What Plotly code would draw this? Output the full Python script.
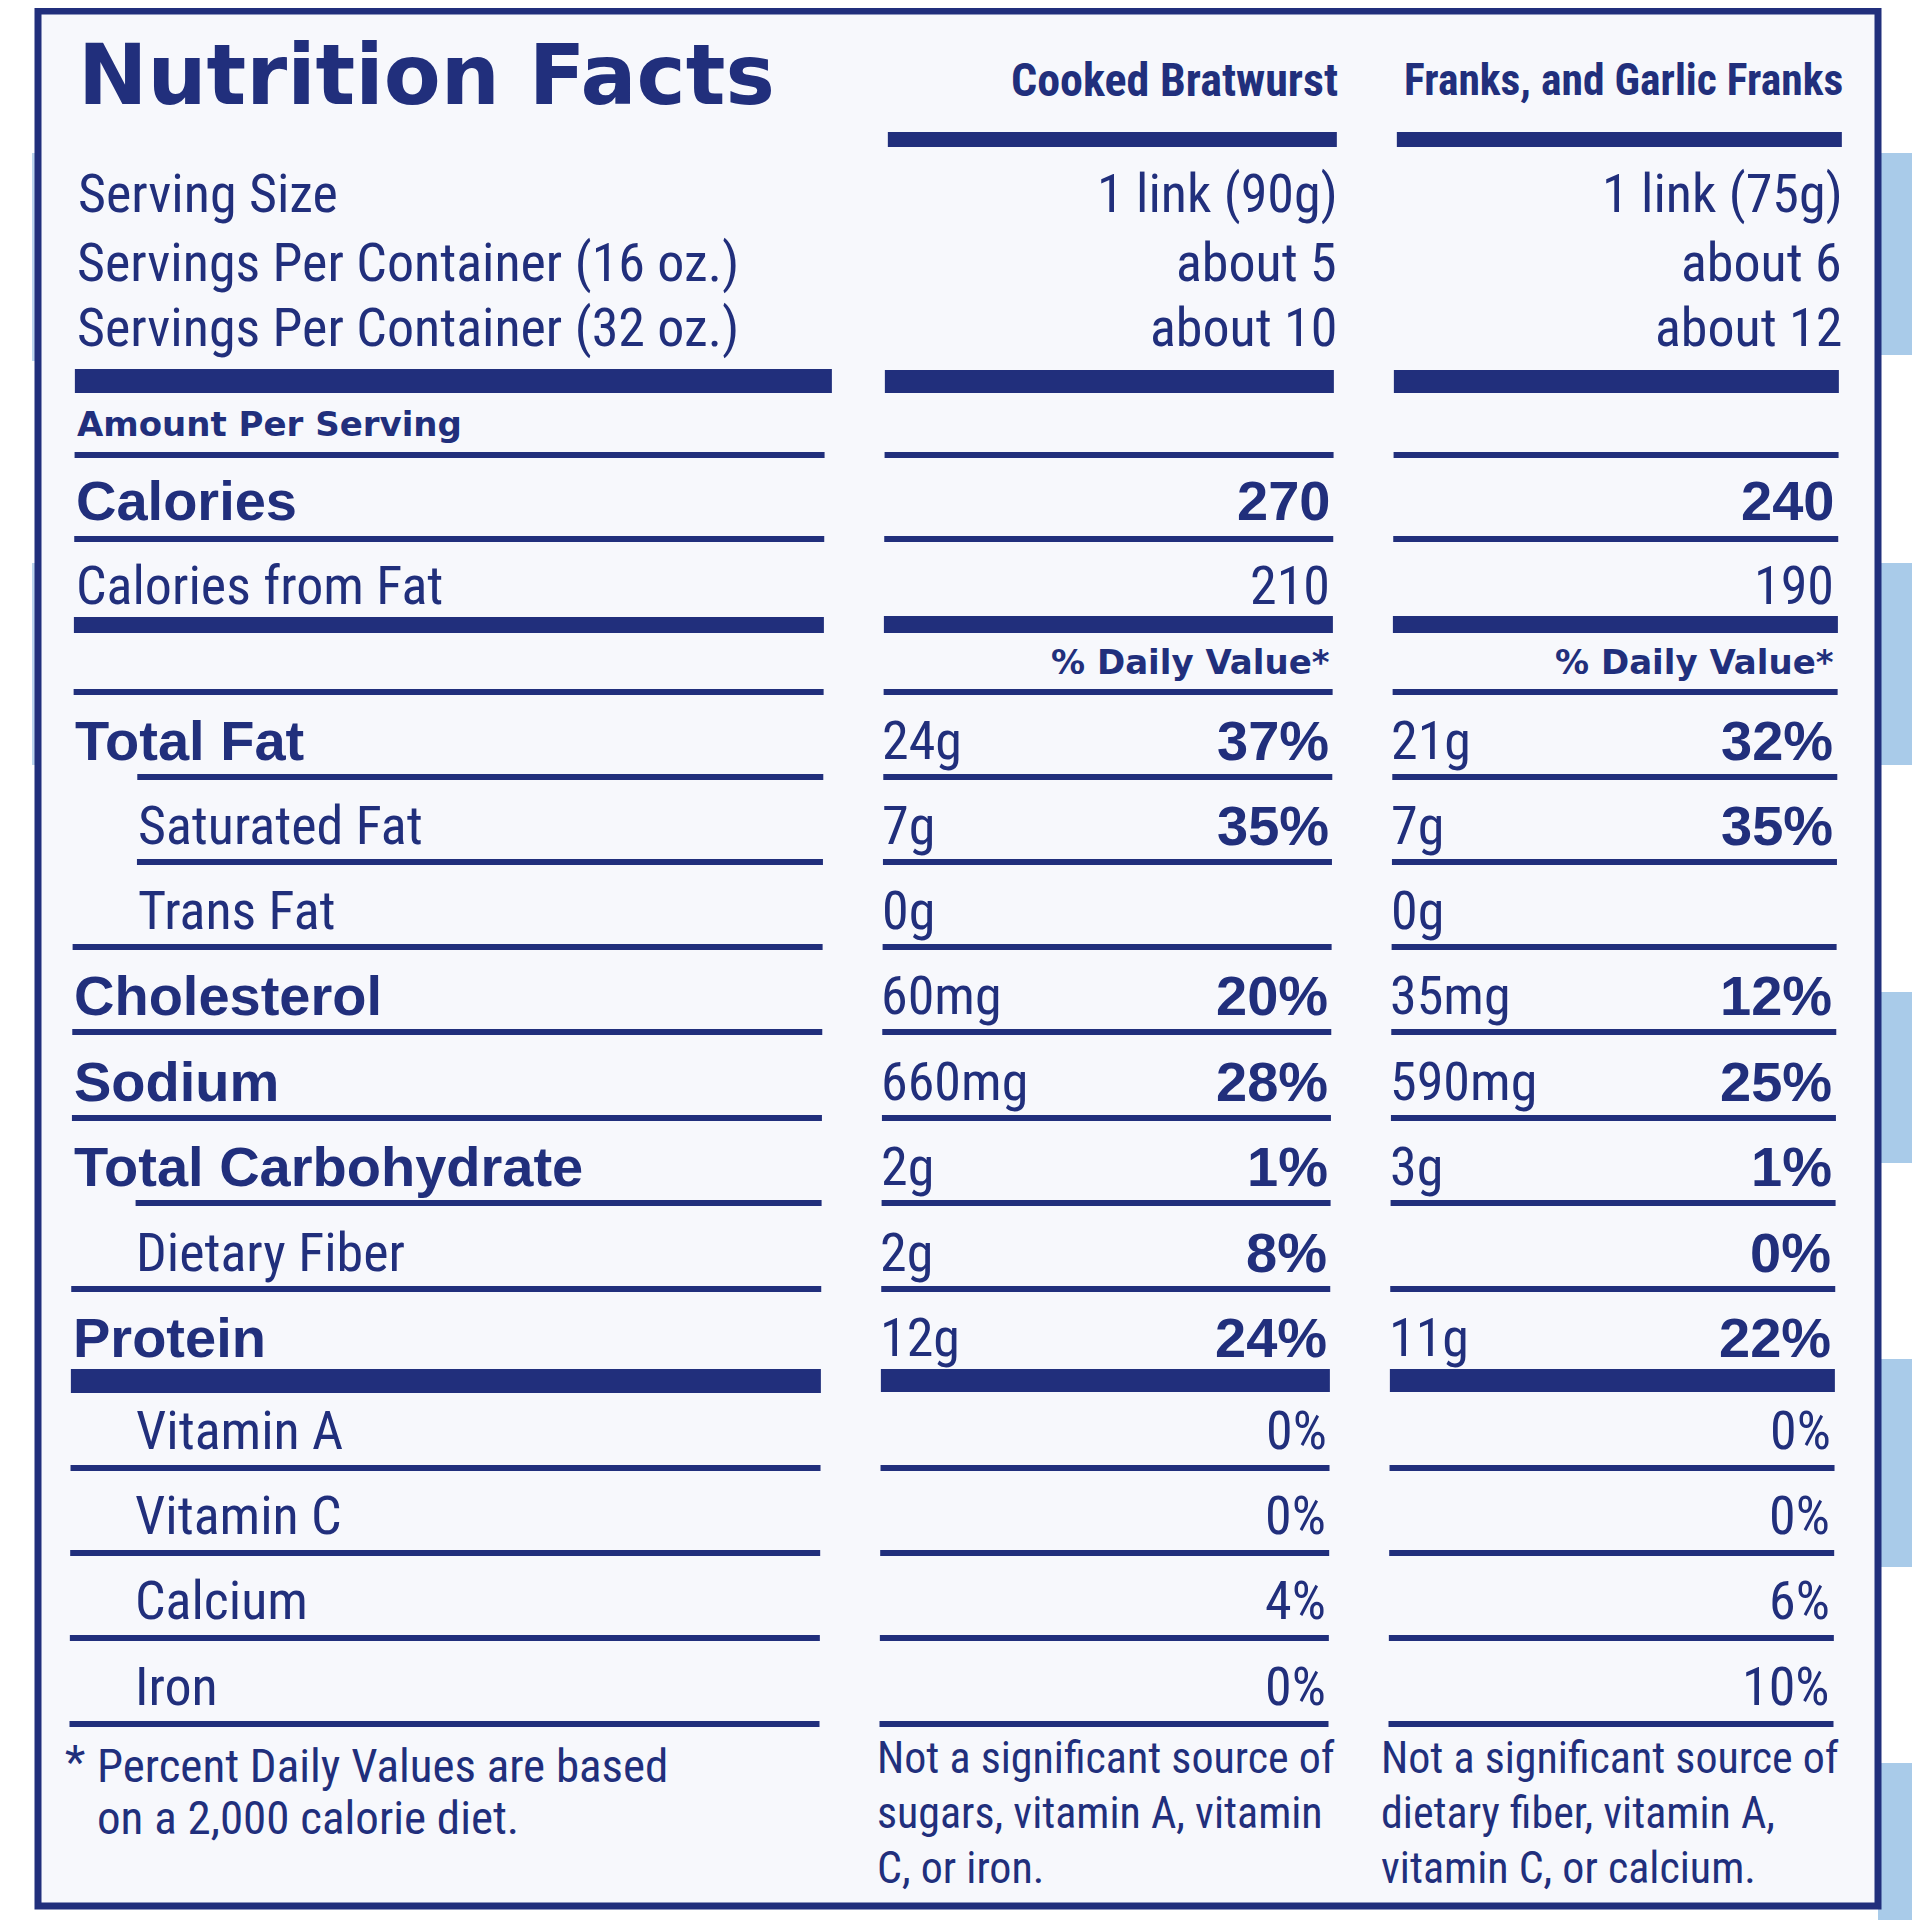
import plotly.graph_objects as go

# ---------------- data ----------------
title = "Nutrition Facts"
col_headers = ["Cooked Bratwurst", "Franks, and Garlic Franks"]

serving_labels = ["Serving Size", "Servings Per Container (16 oz.)", "Servings Per Container (32 oz.)"]
brat_serving = ["1 link (90g)", "about 5", "about 10"]
frank_serving = ["1 link (75g)", "about 6", "about 12"]

calories = ["270", "240"]
calories_from_fat = ["210", "190"]

nutrients = ["Total Fat", "Saturated Fat", "Trans Fat", "Cholesterol", "Sodium",
             "Total Carbohydrate", "Dietary Fiber", "Protein"]
nutrient_bold = [True, False, False, True, True, True, False, True]
nutrient_sub = [False, True, True, False, False, False, True, False]
brat_amount = ["24g", "7g", "0g", "60mg", "660mg", "2g", "2g", "12g"]
brat_dv = ["37%", "35%", "", "20%", "28%", "1%", "8%", "24%"]
frank_amount = ["21g", "7g", "0g", "35mg", "590mg", "3g", "", "11g"]
frank_dv = ["32%", "35%", "", "12%", "25%", "1%", "0%", "22%"]

vitamins = ["Vitamin A", "Vitamin C", "Calcium", "Iron"]
brat_vit = ["0%", "0%", "4%", "0%"]
frank_vit = ["0%", "0%", "6%", "10%"]

footnote = ["Percent Daily Values are based", "on a 2,000 calorie diet."]
brat_note = ["Not a significant source of", "sugars, vitamin A, vitamin", "C, or iron."]
frank_note = ["Not a significant source of", "dietary fiber, vitamin A,", "vitamin C, or calcium."]

# ---------------- layout / style ----------------
NAVY = "#212f7c"
COND = "Roboto Condensed, DejaVu Sans Condensed, sans-serif"
BOLD = "Liberation Sans, Arial, sans-serif"
HEAVY = "DejaVu Sans, Verdana, sans-serif"

SERV_Y = [193, 262, 327]
CAL_Y, CFF_Y, DV_Y = 500, 585, 662
NUTR_Y = [740, 825, 910, 995, 1081, 1166, 1252, 1337]
VIT_Y = [1430, 1515, 1600, 1686]
FOOT_Y = [1765, 1817]
NOTE_Y = [1758, 1813, 1868]

LEFT_X0, LEFT_X1, IND_X0 = 76, 826, 140
LABEL_X, IND_LABEL_X = 76, 139
COLS = [dict(x0=886, x1=1335, amt=883, dv=1334, val=1340, note=882),
        dict(x0=1395, x1=1840, amt=1392, dv=1838, val=1845, note=1386)]

FS = 54        # condensed regular size
FS_B = 56      # bold size


def drift(y):
    # slight skew of the photographed label
    return -0.004 * (y - 100)


annotations = []
shapes = []


def txt(x, y, s, family, size, anchor="left", bold=False):
    if not s:
        return
    annotations.append(dict(
        x=x + drift(y), y=y, xref="x", yref="y", text=("<b>%s</b>" % s) if bold else s,
        showarrow=False, xanchor=anchor, yanchor="middle",
        font=dict(family=family, size=size, color=NAVY)))


def hline(x0, x1, y, w):
    shapes.append(dict(type="line", xref="x", yref="y",
                       x0=x0 + drift(y), x1=x1 + drift(y), y0=y, y1=y,
                       line=dict(color=NAVY, width=w)))


def bar(x0, x1, y0, y1):
    d = drift((y0 + y1) / 2)
    shapes.append(dict(type="rect", xref="x", yref="y", x0=x0 + d, x1=x1 + d, y0=y0, y1=y1,
                       fillcolor=NAVY, line=dict(width=0)))


# background stripes outside the frame
for y0, y1 in [(153, 355), (563, 765), (992, 1163), (1359, 1567), (1763, 1920)]:
    shapes.append(dict(type="rect", xref="x", yref="y", x0=1878, x1=1920, y0=y0, y1=y1,
                       fillcolor="#a9cbe9", line=dict(width=0), layer="below"))
for y0, y1 in [(153, 361), (563, 765)]:
    shapes.append(dict(type="rect", xref="x", yref="y", x0=32, x1=38, y0=y0, y1=y1,
                       fillcolor="#bcd6ee", line=dict(width=0), layer="below"))

# frame
shapes.append(dict(type="rect", xref="x", yref="y", x0=38, x1=1878, y0=11, y1=1906,
                   fillcolor="#f7f8fc", line=dict(color=NAVY, width=7), layer="below"))

# title and headers
txt(76, 75, title, HEAVY, 83, bold=True)
txt(COLS[0]["val"], 80, col_headers[0], COND, 46, "right", True)
txt(COLS[1]["val"], 80, col_headers[1], COND, 43.5, "right", True)
for c in COLS:
    bar(c["x0"] + 2, c["x1"] + 2, 132, 147)

# servings
for i, y in enumerate(SERV_Y):
    txt(LABEL_X, y, serving_labels[i], COND, FS)
    txt(COLS[0]["val"], y, brat_serving[i], COND, FS, "right")
    txt(COLS[1]["val"], y, frank_serving[i], COND, FS, "right")

# thick bar after servings
bar(LEFT_X0, LEFT_X1 + 7, 369, 393)
for c in COLS:
    bar(c["x0"], c["x1"], 370, 393)

txt(LABEL_X, 424, "Amount Per Serving", HEAVY, 34, bold=True)

THIN = 6


def row_line(y, indent=False):
    hline(IND_X0 if indent else LEFT_X0, LEFT_X1, y, THIN)
    for c in COLS:
        hline(c["x0"], c["x1"], y, THIN)


row_line(455)
txt(LABEL_X, CAL_Y, "Calories", BOLD, FS_B, bold=True)
txt(COLS[0]["dv"], CAL_Y, calories[0], BOLD, FS_B, "right", True)
txt(COLS[1]["dv"], CAL_Y, calories[1], BOLD, FS_B, "right", True)
row_line(539)
txt(LABEL_X, CFF_Y, "Calories from Fat", COND, FS)
txt(COLS[0]["dv"], CFF_Y, calories_from_fat[0], COND, FS, "right")
txt(COLS[1]["dv"], CFF_Y, calories_from_fat[1], COND, FS, "right")

bar(LEFT_X0, LEFT_X1, 617, 633)
for c in COLS:
    bar(c["x0"], c["x1"], 616, 633)

txt(COLS[0]["dv"], DV_Y, "% Daily Value*", HEAVY, 34, "right", True)
txt(COLS[1]["dv"], DV_Y, "% Daily Value*", HEAVY, 34, "right", True)
row_line(692)

# nutrient rows
for i, y in enumerate(NUTR_Y):
    if nutrient_bold[i]:
        txt(LABEL_X, y, nutrients[i], BOLD, FS_B, bold=True)
    else:
        txt(IND_LABEL_X, y, nutrients[i], COND, FS)
    txt(COLS[0]["amt"], y, brat_amount[i], COND, FS)
    txt(COLS[0]["dv"], y, brat_dv[i], BOLD, FS_B, "right", True)
    txt(COLS[1]["amt"], y, frank_amount[i], COND, FS)
    txt(COLS[1]["dv"], y, frank_dv[i], BOLD, FS_B, "right", True)
    if i < len(NUTR_Y) - 1:
        row_line(y + 37, indent=nutrient_sub[i + 1])

# thick bar after protein
bar(LEFT_X0, LEFT_X1, 1369, 1393)
for c in COLS:
    bar(c["x0"], c["x1"], 1369, 1392)

# vitamins
for i, y in enumerate(VIT_Y):
    txt(IND_LABEL_X, y, vitamins[i], COND, FS)
    txt(COLS[0]["dv"], y, brat_vit[i], COND, FS, "right")
    txt(COLS[1]["dv"], y, frank_vit[i], COND, FS, "right")
    row_line(y + 38)

# footnotes
txt(70, FOOT_Y[0] - 4, "*", COND, 47)
for i, y in enumerate(FOOT_Y):
    txt(102, y, footnote[i], COND, 47)
for i, y in enumerate(NOTE_Y):
    txt(COLS[0]["note"], y, brat_note[i], COND, 44)
    txt(COLS[1]["note"], y, frank_note[i], COND, 44)

# page body has an 8px margin: make data coordinates equal page pixels
fig = go.Figure()
fig.add_trace(go.Scatter(x=[8, 1920], y=[8, 1920], mode="markers",
                         marker=dict(opacity=0), hoverinfo="skip", showlegend=False))
fig.update_layout(
    width=1912, height=1912, autosize=False,
    margin=dict(l=0, r=0, t=0, b=0, pad=0),
    paper_bgcolor="#ffffff", plot_bgcolor="#ffffff",
    xaxis=dict(range=[8, 1920], visible=False, fixedrange=True),
    yaxis=dict(range=[1920, 8], visible=False, fixedrange=True),
    shapes=shapes, annotations=annotations, showlegend=False,
)
fig.write_html("out.html")
